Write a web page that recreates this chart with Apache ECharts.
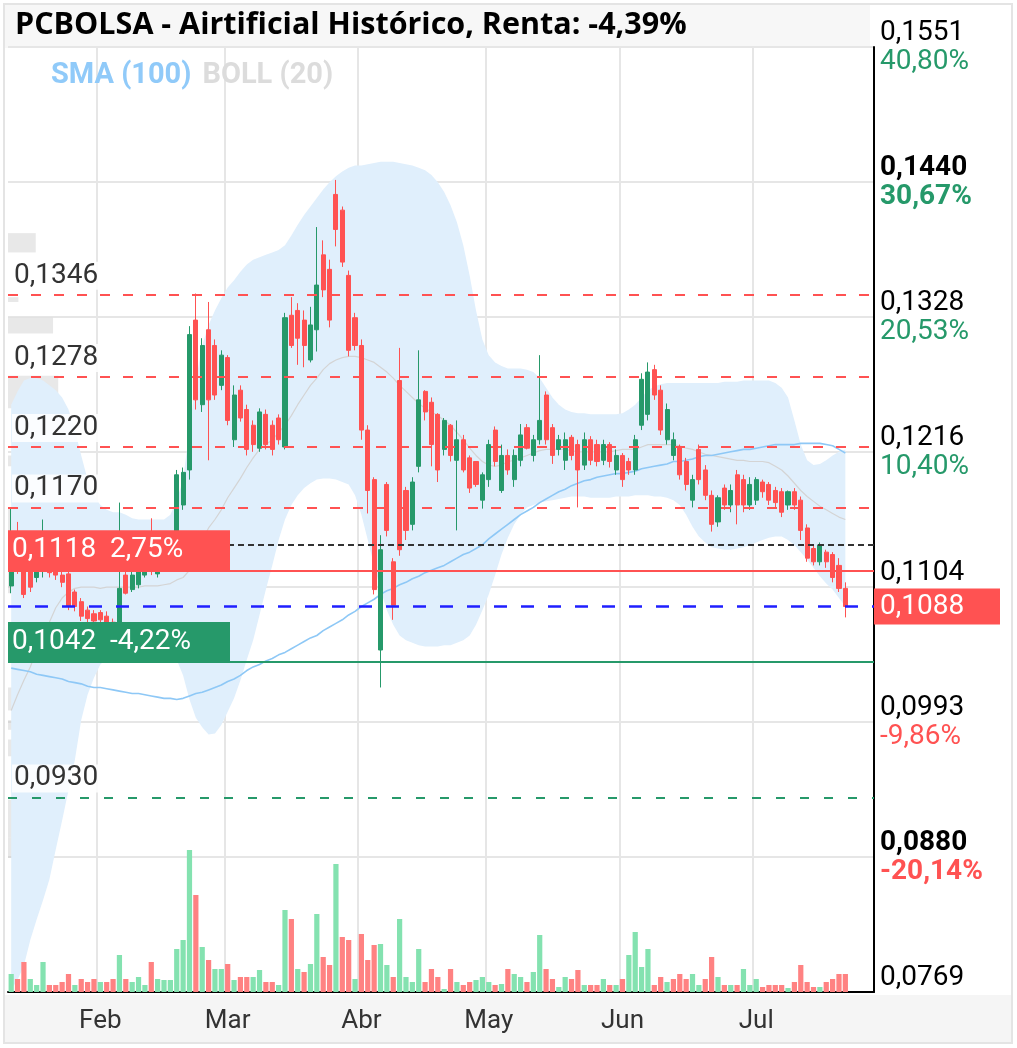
<!DOCTYPE html>
<html><head><meta charset="utf-8">
<script src="https://cdn.jsdelivr.net/npm/echarts@6/dist/echarts.min.js"></script>
<style>html,body{margin:0;padding:0;background:#fff}#c{width:1017px;height:1048px}</style>
</head><body><div id="c"></div>
<script>
const chartTitle = 'PCBOLSA - Airtificial Histórico, Renta: -4,39%';
const tradeDates = [
'2025-01-14','2025-01-15','2025-01-16','2025-01-17','2025-01-20','2025-01-21','2025-01-22','2025-01-23','2025-01-24','2025-01-27',
'2025-01-28','2025-01-29','2025-01-30','2025-01-31','2025-02-03','2025-02-04','2025-02-05','2025-02-06','2025-02-07','2025-02-10',
'2025-02-11','2025-02-12','2025-02-13','2025-02-14','2025-02-17','2025-02-18','2025-02-19','2025-02-20','2025-02-21','2025-02-24',
'2025-02-25','2025-02-26','2025-02-27','2025-02-28','2025-03-03','2025-03-04','2025-03-05','2025-03-06','2025-03-07','2025-03-10',
'2025-03-11','2025-03-12','2025-03-13','2025-03-14','2025-03-17','2025-03-18','2025-03-19','2025-03-20','2025-03-21','2025-03-24',
'2025-03-25','2025-03-26','2025-03-27','2025-03-28','2025-03-31','2025-04-01','2025-04-02','2025-04-03','2025-04-04','2025-04-07',
'2025-04-08','2025-04-09','2025-04-10','2025-04-11','2025-04-14','2025-04-15','2025-04-16','2025-04-17','2025-04-22','2025-04-23',
'2025-04-24','2025-04-25','2025-04-28','2025-04-29','2025-04-30','2025-05-02','2025-05-05','2025-05-06','2025-05-07','2025-05-08',
'2025-05-09','2025-05-12','2025-05-13','2025-05-14','2025-05-15','2025-05-16','2025-05-19','2025-05-20','2025-05-21','2025-05-22',
'2025-05-23','2025-05-26','2025-05-27','2025-05-28','2025-05-29','2025-05-30','2025-06-02','2025-06-03','2025-06-04','2025-06-05',
'2025-06-06','2025-06-09','2025-06-10','2025-06-11','2025-06-12','2025-06-13','2025-06-16','2025-06-17','2025-06-18','2025-06-19',
'2025-06-20','2025-06-23','2025-06-24','2025-06-25','2025-06-26','2025-06-27','2025-06-30','2025-07-01','2025-07-02','2025-07-03',
'2025-07-04','2025-07-07','2025-07-08','2025-07-09','2025-07-10','2025-07-11','2025-07-14','2025-07-15','2025-07-16','2025-07-17',
'2025-07-18','2025-07-21'];
const padDates = ['2025-07-22','2025-07-23','2025-07-24','2025-07-25'];
const monthNames = ['Ene','Feb','Mar','Abr','May','Jun','Jul','Ago','Sep','Oct','Nov','Dic'];

const openP = [.1105,.1150,.1120,.1118,.1112,.1118,.1125,.1118,.1114,.1115,
 .1100,.1092,.1085,.1082,.1083,.1080,.1075,.1058,.1114,.1102,
 .1106,.1114,.1122,.1115,.1120,.1127,.1147,.1172,.1201,.1325,
 .1255,.1317,.1304,.1271,.1294,.1226,.1267,.1251,.1238,.1219,
 .1247,.1238,.1244,.1220,.1329,.1333,.1325,.1292,.1317,.1379,
 .1367,.1429,.1416,.1362,.1327,.1304,.1234,.1193,.1052,.1189,
 .1125,.1275,.1184,.1156,.1204,.1266,.1257,.1247,.1218,.1238,
 .1209,.1226,.1211,.1208,.1176,.1193,.1234,.1184,.1213,.1193,
 .1209,.1236,.1213,.1226,.1263,.1236,.1218,.1209,.1228,.1222,
 .1205,.1226,.1222,.1209,.1222,.1201,.1213,.1208,.1201,.1238,
 .1247,.1284,.1267,.1226,.1213,.1220,.1208,.1176,.1218,.1201,
 .1180,.1158,.1186,.1172,.1197,.1193,.1172,.1176,.1191,.1189,
 .1184,.1183,.1172,.1183,.1176,.1153,.1136,.1125,.1133,.1131,
 .1122,.1103];
const closeP = [.1150,.1125,.1098,.1104,.1120,.1140,.1116,.1114,.1108,.1088,
 .1088,.1080,.1078,.1076,.1077,.1073,.1066,.1103,.1099,.1114,
 .1117,.1120,.1117,.1122,.1127,.1143,.1197,.1199,.1313,.1259,
 .1304,.1259,.1263,.1296,.1242,.1263,.1244,.1218,.1222,.1249,
 .1222,.1218,.1226,.1327,.1304,.1310,.1304,.1321,.1354,.1350,
 .1325,.1400,.1373,.1300,.1304,.1234,.1184,.1102,.1135,.1151,
 .1089,.1135,.1151,.1191,.1259,.1249,.1222,.1201,.1242,.1213,
 .1226,.1201,.1186,.1189,.1197,.1222,.1208,.1213,.1201,.1213,
 .1230,.1219,.1226,.1242,.1226,.1213,.1226,.1226,.1213,.1201,
 .1226,.1209,.1208,.1222,.1208,.1213,.1193,.1201,.1226,.1276,
 .1282,.1263,.1234,.1251,.1226,.1197,.1189,.1193,.1193,.1180,
 .1156,.1178,.1172,.1184,.1172,.1172,.1189,.1193,.1183,.1176,
 .1174,.1166,.1183,.1172,.1151,.1128,.1125,.1139,.1125,.1112,
 .1103,.1088];
const lowP = [.1099,.1115,.1095,.1100,.1108,.1112,.1112,.1110,.1104,.1085,
 .1084,.1076,.1074,.1072,.1074,.1070,.1062,.1050,.1098,.1100,
 .1103,.1112,.1114,.1112,.1117,.1122,.1145,.1168,.1193,.1251,
 .1249,.1209,.1259,.1267,.1238,.1220,.1241,.1213,.1216,.1216,
 .1218,.1213,.1222,.1218,.1302,.1288,.1286,.1290,.1299,.1344,
 .1319,.1386,.1369,.1295,.1300,.1226,.1165,.1098,.1021,.1146,
 .1077,.1130,.1143,.1151,.1199,.1242,.1204,.1191,.1213,.1208,
 .1151,.1199,.1182,.1187,.1169,.1187,.1204,.1182,.1197,.1187,
 .1204,.1218,.1208,.1222,.1222,.1206,.1213,.1201,.1209,.1170,
 .1201,.1205,.1204,.1205,.1203,.1197,.1187,.1197,.1197,.1234,
 .1242,.1259,.1230,.1222,.1209,.1193,.1184,.1170,.1189,.1176,
 .1150,.1154,.1168,.1166,.1156,.1166,.1168,.1172,.1178,.1172,
 .1170,.1162,.1168,.1168,.1143,.1125,.1122,.1122,.1120,.1108,
 .1100,.1079];
const highP = [.1169,.1158,.1125,.1122,.1122,.1160,.1130,.1122,.1118,.1118,
 .1102,.1095,.1088,.1085,.1085,.1084,.1078,.1174,.1118,.1117,
 .1120,.1122,.1161,.1127,.1131,.1147,.1201,.1203,.1320,.1347,
 .1310,.1340,.1309,.1300,.1296,.1271,.1271,.1255,.1242,.1252,
 .1251,.1242,.1247,.1331,.1344,.1339,.1333,.1336,.1402,.1391,
 .1375,.1441,.1419,.1366,.1331,.1309,.1238,.1195,.1147,.1191,
 .1128,.1302,.1187,.1195,.1300,.1267,.1261,.1248,.1244,.1239,
 .1242,.1230,.1213,.1208,.1199,.1226,.1237,.1222,.1218,.1218,
 .1239,.1239,.1230,.1296,.1266,.1239,.1230,.1232,.1230,.1226,
 .1232,.1229,.1226,.1226,.1224,.1218,.1215,.1211,.1230,.1281,
 .1290,.1288,.1271,.1256,.1232,.1222,.1211,.1197,.1222,.1205,
 .1184,.1180,.1189,.1189,.1201,.1197,.1195,.1195,.1193,.1191,
 .1187,.1186,.1184,.1186,.1179,.1156,.1139,.1141,.1135,.1133,
 .1128,.1108];
const volumeK = [18,13,30,13,7,30,7,7,10,18,
 7,13,10,13,10,10,13,37,13,10,
 15,7,30,13,12,12,43,52,142,97,
 45,32,23,23,28,12,15,15,15,22,
 10,10,7,82,73,23,20,28,78,35,
 27,128,55,52,13,58,32,47,48,27,
 15,73,15,10,43,10,23,15,3,23,
 10,7,10,12,15,10,7,8,23,18,
 15,10,20,57,23,13,5,15,13,22,
 7,7,7,13,7,7,13,37,60,25,
 43,7,15,10,13,18,13,18,7,13,
 35,15,7,7,7,23,7,13,5,7,
 7,7,4,10,27,10,5,5,10,13,
 18,18];
const bollUpper = [.1255,.1266,.1275,.1277,.1277,.1275,.1271,.1267,.1261,.1251,
 .1234,.1213,.1193,.1180,.1172,.1168,.1166,.1166,.1164,.1161,
 .1160,.1160,.1160,.1160,.1160,.1164,.1176,.1193,.1234,.1275,
 .1304,.1321,.1333,.1343,.1352,.1358,.1365,.1371,.1375,.1377,
 .1379,.1381,.1383,.1387,.1395,.1404,.1412,.1419,.1426,.1433,
 .1439,.1444,.1448,.1451,.1453,.1453,.1454,.1455,.1456,.1456,
 .1456,.1455,.1454,.1453,.1451,.1449,.1445,.1439,.1431,.1420,
 .1406,.1387,.1362,.1333,.1309,.1296,.1290,.1287,.1285,.1285,
 .1285,.1284,.1282,.1277,.1269,.1261,.1255,.1251,.1249,.1248,
 .1248,.1247,.1247,.1247,.1247,.1247,.1248,.1251,.1255,.1261,
 .1267,.1270,.1272,.1273,.1273,.1273,.1273,.1273,.1273,.1273,
 .1273,.1273,.1274,.1274,.1274,.1275,.1275,.1275,.1275,.1275,
 .1273,.1269,.1261,.1242,.1222,.1209,.1205,.1206,.1209,.1213,
 .1216,.1218];
const bollLower = [.0771,.0779,.0791,.0812,.0829,.0845,.0862,.0887,.0911,.0936,
 .0961,.0994,.1015,.1029,.1040,.1045,.1048,.1048,.1048,.1048,
 .1050,.1052,.1052,.1052,.1054,.1052,.1044,.1031,.1011,.0996,
 .0988,.0982,.0983,.0990,.1001,.1012,.1027,.1044,.1060,.1081,
 .1102,.1122,.1143,.1160,.1172,.1180,.1186,.1190,.1193,.1194,
 .1194,.1193,.1191,.1189,.1180,.1164,.1143,.1122,.1102,.1085,
 .1073,.1064,.1060,.1058,.1056,.1055,.1055,.1055,.1056,.1056,
 .1058,.1060,.1064,.1073,.1085,.1098,.1114,.1131,.1145,.1156,
 .1164,.1170,.1172,.1174,.1175,.1176,.1177,.1178,.1179,.1179,
 .1179,.1178,.1178,.1178,.1178,.1179,.1179,.1179,.1180,.1180,
 .1180,.1179,.1179,.1178,.1176,.1172,.1164,.1154,.1146,.1141,
 .1137,.1136,.1135,.1135,.1136,.1137,.1139,.1141,.1143,.1145,
 .1146,.1146,.1143,.1139,.1133,.1127,.1120,.1113,.1107,.1102,
 .1095,.1088];
const bollMid = [.1002,.1015,.1027,.1038,.1052,.1064,.1075,.1087,.1095,.1100,
 .1103,.1104,.1104,.1104,.1103,.1104,.1104,.1104,.1104,.1104,
 .1104,.1105,.1105,.1105,.1106,.1107,.1110,.1112,.1118,.1131,
 .1143,.1153,.1160,.1168,.1178,.1186,.1194,.1203,.1211,.1218,
 .1222,.1226,.1232,.1238,.1246,.1255,.1263,.1271,.1277,.1284,
 .1289,.1292,.1294,.1295,.1295,.1294,.1292,.1290,.1286,.1282,
 .1277,.1271,.1266,.1261,.1256,.1252,.1249,.1246,.1242,.1238,
 .1232,.1226,.1219,.1213,.1208,.1205,.1204,.1205,.1208,.1209,
 .1211,.1213,.1215,.1217,.1218,.1218,.1218,.1218,.1217,.1216,
 .1216,.1216,.1216,.1216,.1216,.1217,.1218,.1218,.1218,.1220,
 .1222,.1222,.1222,.1222,.1222,.1221,.1219,.1218,.1216,.1214,
 .1213,.1212,.1211,.1210,.1209,.1209,.1208,.1208,.1208,.1207,
 .1204,.1201,.1196,.1190,.1184,.1179,.1175,.1171,.1168,.1165,
 .1162,.1160];
const sma100 = [.1037,.1036,.1035,.1034,.1032,.1031,.1030,.1029,.1028,.1026,
 .1025,.1024,.1022,.1021,.1021,.1020,.1019,.1018,.1017,.1016,
 .1016,.1015,.1014,.1013,.1012,.1012,.1011,.1012,.1014,.1016,
 .1017,.1019,.1021,.1023,.1026,.1028,.1031,.1035,.1038,.1040,
 .1043,.1045,.1048,.1050,.1053,.1056,.1059,.1062,.1064,.1068,
 .1071,.1074,.1077,.1081,.1084,.1088,.1091,.1094,.1098,.1101,
 .1103,.1106,.1108,.1111,.1113,.1116,.1118,.1120,.1122,.1125,
 .1128,.1131,.1133,.1136,.1139,.1144,.1148,.1152,.1156,.1160,
 .1164,.1167,.1170,.1174,.1177,.1180,.1183,.1185,.1188,.1190,
 .1192,.1193,.1195,.1196,.1197,.1198,.1198,.1199,.1200,.1202,
 .1203,.1204,.1205,.1206,.1208,.1208,.1209,.1210,.1212,.1213,
 .1213,.1214,.1215,.1216,.1217,.1218,.1218,.1219,.1220,.1221,
 .1222,.1222,.1222,.1222,.1223,.1223,.1223,.1223,.1222,.1221,
 .1218,.1215];
// volume-at-price profile (left edge)
const profLow  = [0.1381,0.1340,0.1314,0.1252,0.1204,0.1143,0.1099,0.1002,0.0986,0.0964,0.0897,0.0880];
const profHigh = [0.1397,0.1344,0.1327,0.1279,0.1213,0.1170,0.1117,0.1021,0.0994,0.0978,0.0928,0.0897];
const profVol  = [3.2,1.2,5.2,5.8,6.9,2.3,2.3,2.6,1.5,4.7,3.0,1.5];

const yTickPrice = ['0,0769','0,0880','0,0993','0,1104','0,1216','0,1328','0,1440','0,1551'];
const yTickPct   = ['','-20,14%','-9,86%','','10,40%','20,53%','30,67%','40,80%'];
const yTickBold  = [false,true,false,false,false,false,true,false];
const priceMin = 0.0769, priceMax = 0.1551;

const resistLevels = [0.1346, 0.1278, 0.1220, 0.1170];
const supportLevels = [0.0930];
const refDotted = 0.1139;
const boxLevels = [0.1118, 0.1042];
const boxTexts = ['0,1118  2,75%', '0,1042  -4,22%'];
const lastPrice = 0.1088;

const UP = '#26996a', DOWN = '#ff5252';
const fmt = v => (+v).toFixed(4).replace('.', ',');
const cats = tradeDates.concat(padDates);
const isMonthStart = i => i > 0 && i < tradeDates.length && tradeDates[i].slice(5,7) !== tradeDates[i-1].slice(5,7);

const candles = tradeDates.map((d,i)=>[openP[i], closeP[i], lowP[i], highP[i]]);
const volData = volumeK.map((v,i)=>({value:v, itemStyle:{color: (i>0 && closeP[i] < closeP[i-1]) ? '#ff8282' : '#84e2b0'}}));
const bandDiff = bollUpper.map((u,i)=> +(u - bollLower[i]).toFixed(4));
const profData = profLow.map((l,i)=>[l, profHigh[i], profVol[i]]);

const mlData = [];
resistLevels.concat(supportLevels).forEach((v,k) => mlData.push({yAxis:v,
  lineStyle:{color: k < resistLevels.length ? '#ff5252' : '#26996a', type: k < resistLevels.length ? [10,13] : [9,15], width:2},
  label:{show:true, position:'insideStartTop', distance:[4,5], color:'#333', fontSize:28, fontFamily:'Roboto',
    backgroundColor:'rgba(255,255,255,0.85)', padding:[0,2], formatter: fmt(v)}}));
mlData.push({yAxis:refDotted, lineStyle:{color:'#333', type:[6,4], width:2}, label:{show:false}});
boxLevels.forEach((v,k) => mlData.push({yAxis:v, lineStyle:{color: k===0 ? '#ff5252' : '#26996a', type:'solid', width:2},
  label:{show:true, position:'insideStartTop', distance:[0,0], color:'#fff', fontSize:28, fontFamily:'Roboto',
    backgroundColor: k===0 ? '#ff5252' : '#26996a', width:214, padding:[6,4,6,4], formatter: boxTexts[k]}}));
mlData.push({yAxis:lastPrice, lineStyle:{color:'#1f1fff', type:[13,14], width:2.5},
  label:{show:true, position:'end', distance:0, color:'#fff', fontSize:28, fontFamily:'Roboto', backgroundColor:'#ff5252', width:114, padding:[4,6,4,6], formatter: fmt(lastPrice)}});

const richBase = {fontSize:28, lineHeight:29, fontFamily:'Roboto'};
const chart = echarts.init(document.getElementById('c'));
chart.setOption({
  animation:false,
  backgroundColor:'#fff',
  graphic:[
    {type:'rect', z:-10, shape:{x:5,y:5,width:865,height:43}, style:{fill:'#f7f7f7'}},
    {type:'rect', z:-10, shape:{x:5,y:995,width:1006,height:47}, style:{fill:'#f5f5f5'}},
    {type:'rect', z:-10, shape:{x:4,y:4,width:1008,height:1039}, style:{fill:'none', stroke:'#e4e4e4', lineWidth:2}}
  ],
  title:{text:chartTitle, left:10, top:5, textStyle:{fontSize:30.5, fontWeight:'bold', color:'#000', fontFamily:'Open Sans'}},
  legend:{left:41, top:56, icon:'none', itemWidth:0, itemGap:6, selectedMode:false,
    textStyle:{fontSize:29, fontWeight:'bold', fontFamily:'Roboto'},
    data:[{name:'SMA (100)', textStyle:{color:'#90caf9'}}, {name:'BOLL (20)', textStyle:{color:'#dcdcdc'}}]},
  grid:{left:8, right:143, top:47, bottom:56, containLabel:false},
  xAxis:[
    {type:'category', data:cats, boundaryGap:true,
     axisLine:{lineStyle:{color:'#000', width:2}}, axisTick:{show:false},
     axisLabel:{interval:(i)=>isMonthStart(i), formatter:(v)=>monthNames[parseInt(v.slice(5,7),10)-1], fontSize:26, color:'#333', fontFamily:'Roboto', margin:16},
     splitLine:{show:true, interval:(i)=>isMonthStart(i), lineStyle:{color:'#e6e6e6', width:2}}},
    {type:'value', min:0, max:100, show:false}
  ],
  yAxis:[
    {type:'value', min:priceMin, max:priceMax, show:false, position:'right', splitLine:{show:false}},
    {type:'value', min:0, max:7, interval:1, position:'right',
     axisLine:{show:true, lineStyle:{color:'#000', width:2}}, axisTick:{show:false},
     splitLine:{show:true, lineStyle:{color:'#e6e6e6', width:2}},
     axisLabel:{margin:6, formatter:(v)=>{const i=Math.round(v); const b=yTickBold[i]; const p=yTickPct[i];
        const ps = p ? (p[0]==='-' ? 'pd' : 'pu') + (b ? 'b' : '') : 'v';
        return '{' + (b?'vb':'v') + '|' + yTickPrice[i] + '}\n{' + ps + '|' + (p || ' ') + '}';},
       rich:{v:Object.assign({color:'#000'}, richBase), vb:Object.assign({color:'#000', fontWeight:'bold'}, richBase),
             pu:Object.assign({color:UP}, richBase), pub:Object.assign({color:UP, fontWeight:'bold'}, richBase),
             pd:Object.assign({color:DOWN}, richBase), pdb:Object.assign({color:DOWN, fontWeight:'bold'}, richBase)}}},
    {type:'value', min:0, max:945, show:false}
  ],
  series:[
    {type:'custom', name:'perfil', xAxisIndex:1, yAxisIndex:0, z:1, silent:true, data:profData,
     renderItem:(params, api)=>{const lo=api.value(0), hi=api.value(1), w=api.value(2);
       const a=api.coord([0,hi]), b=api.coord([w,lo]);
       return {type:'rect', shape:{x:a[0], y:a[1], width:b[0]-a[0], height:b[1]-a[1]}, style:{fill:'rgba(190,190,190,0.35)'}};}},
    {type:'line', name:'bandLow', data:bollLower, stack:'band', symbol:'none', z:1, silent:true, lineStyle:{opacity:0}},
    {type:'line', name:'bandFill', data:bandDiff, stack:'band', symbol:'none', z:1, silent:true, lineStyle:{opacity:0}, areaStyle:{color:'#e0effc', opacity:1}},
    {type:'bar', name:'Volumen', yAxisIndex:2, data:volData, barWidth:'82%', z:2, silent:true},
    {type:'line', name:'BOLL (20)', data:bollMid, symbol:'none', z:3, color:'#d4d4d4', lineStyle:{color:'#d4d4d4', width:1.2}},
    {type:'line', name:'SMA (100)', data:sma100, symbol:'none', z:3, color:'#90caf9', lineStyle:{color:'#8ec8f6', width:1.6}},
    {type:'candlestick', name:'PCBOLSA', data:candles, barWidth:'72%', z:4,
     itemStyle:{color:UP, color0:DOWN, borderColor:UP, borderColor0:DOWN, borderWidth:1}},
    {type:'line', name:'niveles', data:[], z:6, silent:true,
     markLine:{silent:true, precision:4, symbol:['none','none'], animation:false, data:mlData}}
  ]
});
</script></body></html>
